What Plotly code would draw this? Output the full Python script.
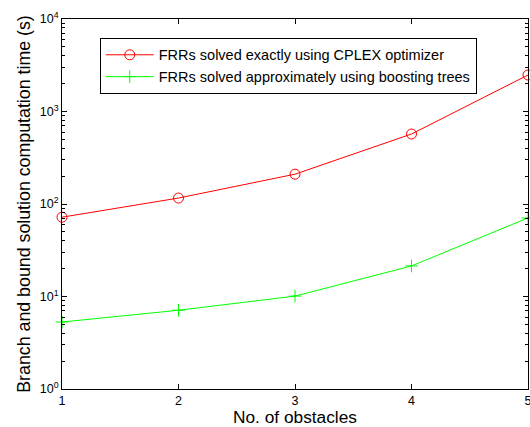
import plotly.graph_objects as go

obstacles = [1, 2, 3, 4, 5]
cplex_time = [72, 116, 210, 571, 2480]
boost_time = [5.3, 7.1, 10.1, 21.4, 70.7]
ytick_vals = [1, 10, 100, 1000, 10000]
ytick_text = ["10<sup>0</sup>", "10<sup>1</sup>", "10<sup>2</sup>", "10<sup>3</sup>", "10<sup>4</sup>"]
minor_vals = [m * 10 ** d for d in range(4) for m in range(2, 10)]

fig = go.Figure()
fig.add_trace(go.Scatter(
    x=obstacles, y=cplex_time, mode="lines+markers",
    name="FRRs solved exactly using CPLEX optimizer",
    line=dict(color="#ff0000", width=1),
    marker=dict(symbol="circle-open", size=10, color="#ff0000", line=dict(width=1)),
    cliponaxis=False,
))
fig.add_trace(go.Scatter(
    x=obstacles, y=boost_time, mode="lines+markers",
    name="FRRs solved approximately using boosting trees",
    line=dict(color="#00ff00", width=1),
    marker=dict(symbol="cross-thin-open", size=9, color="#00ff00", line=dict(width=1, color="#00ff00")),
    cliponaxis=False,
))

font = "Liberation Sans, Arial, sans-serif"
fig.update_layout(
    width=532, height=427,
    margin=dict(l=62, r=0, t=19, b=38),
    paper_bgcolor="white", plot_bgcolor="white",
    font=dict(family=font, size=12, color="black"),
    showlegend=True,
    legend=dict(
        x=0.081, y=0.949, xanchor="left", yanchor="top",
        bgcolor="white", bordercolor="black", borderwidth=1,
        font=dict(family=font, size=14.5, color="black"),
        itemwidth=48,
    ),
    xaxis=dict(
        range=[1, 5], tickvals=obstacles, ticktext=[str(v) for v in obstacles],
        ticks="inside", ticklen=5, tickcolor="black",
        showline=True, linecolor="black", linewidth=1, mirror="ticks",
        showgrid=False, zeroline=False, ticklabeloverflow="allow",
        title=dict(text="No. of obstacles", font=dict(size=17.3), standoff=6),
        tickfont=dict(size=12.5),
    ),
    yaxis=dict(
        type="log", range=[0, 4], tickvals=ytick_vals, ticktext=ytick_text,
        ticks="inside", ticklen=5, tickcolor="black",
        showline=True, linecolor="black", linewidth=1, mirror="ticks",
        showgrid=False, zeroline=False,
        minor=dict(tickvals=minor_vals, ticks="inside", ticklen=3, tickcolor="black", showgrid=False),
        title=dict(text="Branch and bound solution computation time (s)", font=dict(size=17.8), standoff=4),
        tickfont=dict(size=12.5),
    ),
)

fig.write_html("out.html", config={"displayModeBar": False})

with open("out.html", "r", encoding="utf-8") as f:
    html = f.read()
html = html.replace("<body>", '<body style="margin:0;overflow:hidden">', 1)
with open("out.html", "w", encoding="utf-8") as f:
    f.write(html)
